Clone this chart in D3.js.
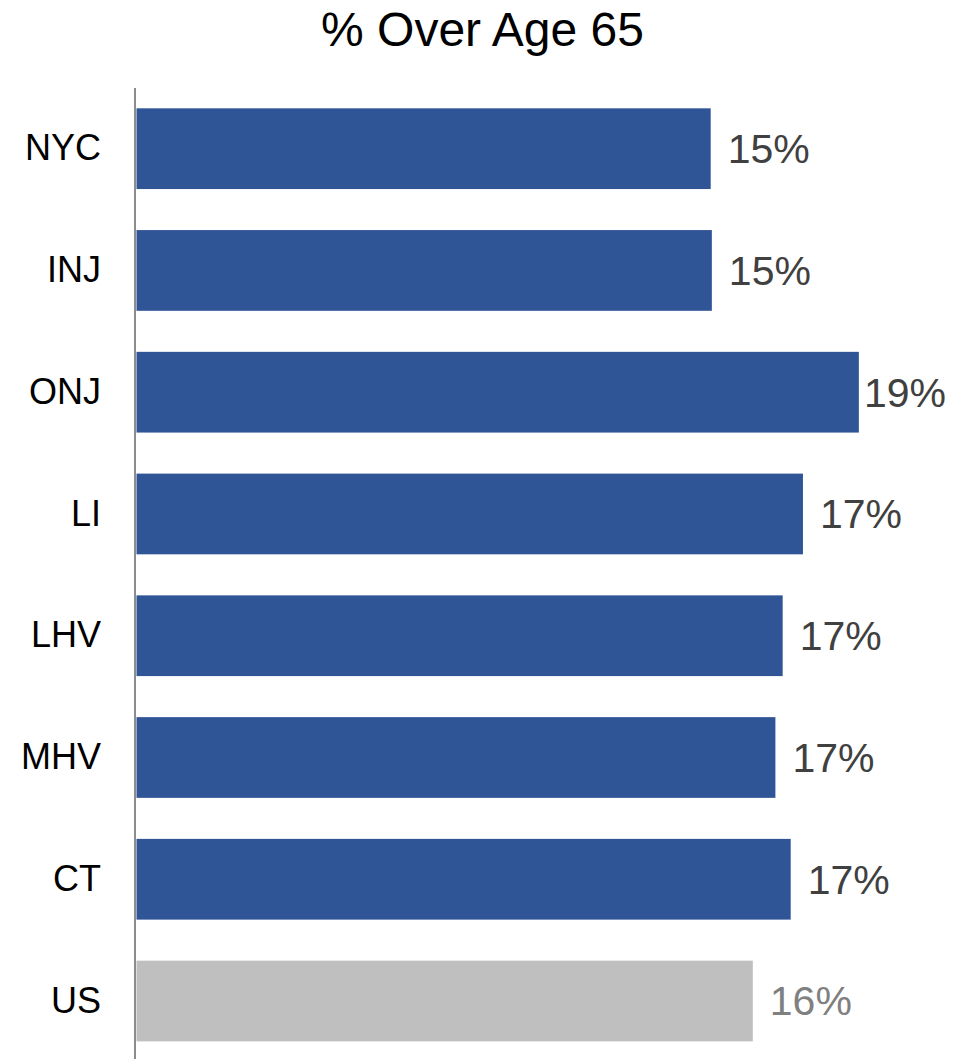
<!DOCTYPE html>
<html>
<head>
<meta charset="utf-8">
<script src="https://cdn.jsdelivr.net/npm/d3@7"></script>
<style>
  body { margin: 0; background: #fff; }
  text { font-family: "Liberation Sans", Arial, sans-serif; }
</style>
</head>
<body>
<svg id="chart" width="976" height="1059"></svg>
<script>
var regions = ["NYC", "INJ", "ONJ", "LI", "LHV", "MHV", "CT", "US"];
var shareOver65 = [0.150, 0.1503, 0.1887, 0.1741, 0.1688, 0.1669, 0.1709, 0.161];
var benchmark = ["US"];

var svgWidth = 976;
var svgHeight = 1059;
var axisX = 136.5;

var svg = d3.select("#chart");

var xScale = d3.scaleLinear()
    .domain([0, 0.2])
    .range([axisX, axisX + 765.6]);

var yScale = d3.scaleBand()
    .domain(regions)
    .range([87.8, 1061.9])
    .paddingInner(0.337)
    .paddingOuter(0.1685);

// 제목
svg.append("text")
    .attr("x", 482.5)
    .attr("y", 46)
    .attr("text-anchor", "middle")
    .attr("font-size", 48)
    .attr("fill", "#000")
    .text("% Over Age 65");

var rows = regions.map(function(r, i){ return {name: r, value: shareOver65[i]}; });

// 막대
svg.selectAll("rect.bar")
    .data(rows)
    .enter()
    .append("rect")
    .attr("class", "bar")
    .attr("x", xScale(0))
    .attr("y", d => yScale(d.name))
    .attr("width", d => xScale(d.value) - xScale(0))
    .attr("height", yScale.bandwidth())
    .attr("fill", d => benchmark.indexOf(d.name) >= 0 ? "#bfbfbf" : "#2f5597");

// 세로축
var yAxis = d3.axisLeft(yScale).tickSize(0).tickPadding(34);
var gAxis = svg.append("g")
    .attr("transform", "translate(" + (axisX - 1.5) + ",0)")
    .call(yAxis);
gAxis.select(".domain")
    .attr("d", "M0,88V" + svgHeight)
    .attr("stroke", "#666")
    .attr("stroke-width", 1.5);
gAxis.selectAll(".tick text")
    .attr("font-size", 36)
    .attr("fill", "#000")
    .style("font-family", "'Liberation Sans', Arial, sans-serif");

// 값 라벨
var fmt = d3.format(".0%");
svg.selectAll("text.val")
    .data(rows)
    .enter()
    .append("text")
    .attr("class", "val")
    .attr("y", d => yScale(d.name) + yScale.bandwidth() / 2)
    .attr("dy", "0.35em")
    .attr("font-size", 41)
    .attr("fill", d => benchmark.indexOf(d.name) >= 0 ? "#808080" : "#404040")
    .text(d => fmt(d.value))
    .attr("x", function(d){
        var w = this.getComputedTextLength();
        return Math.min(xScale(d.value) + 17, 946 - w);
    });
</script>
</body>
</html>
